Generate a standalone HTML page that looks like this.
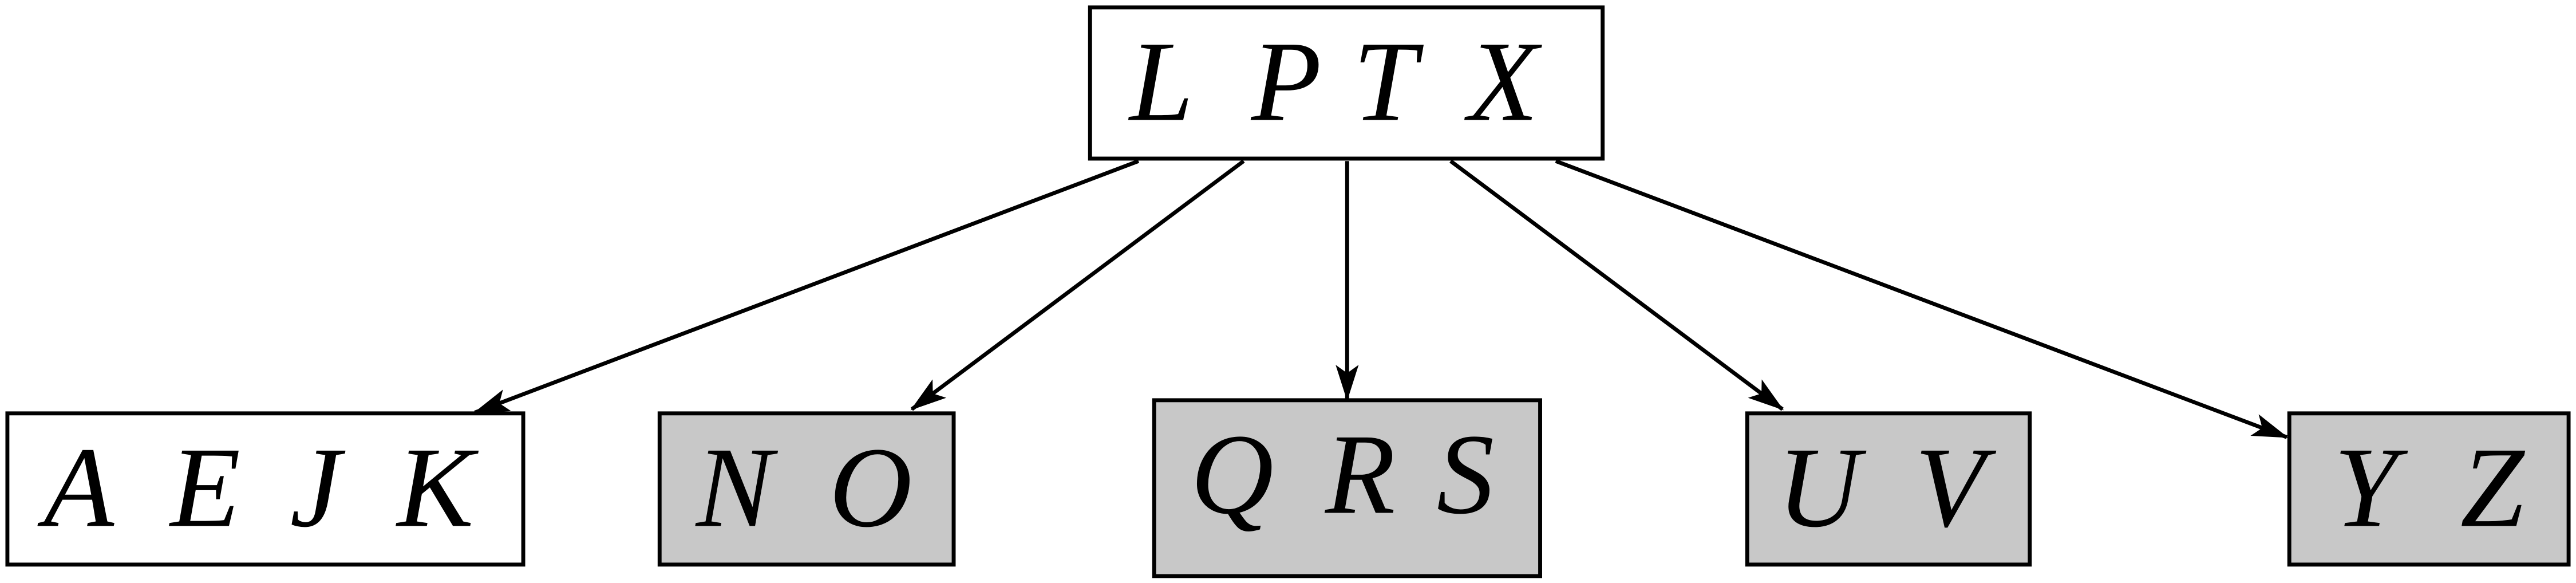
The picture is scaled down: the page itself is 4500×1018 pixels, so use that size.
<!DOCTYPE html>
<html><head><meta charset="utf-8"><style>html,body{margin:0;padding:0;background:#fff}svg{display:block}</style></head>
<body>
<svg width="4500" height="1018" viewBox="0 0 1568 354.7" preserveAspectRatio="none" xmlns="http://www.w3.org/2000/svg">
<defs>
<marker id="a" viewBox="0 0 22 14" refX="21" refY="7" markerWidth="22" markerHeight="14" markerUnits="userSpaceOnUse" orient="auto">
<path d="M0,0 L22,7 L0,14 L5,7 Z" fill="#000"/>
</marker>
</defs>
<g fill="none" stroke="#000" stroke-width="2.4">
<rect x="663.5" y="4.5" width="312" height="92" fill="#fff"/>
<rect x="4.5" y="251.5" width="314" height="92" fill="#fff"/>
<rect x="401.5" y="251.5" width="179" height="92" fill="#c8c8c8"/>
<rect x="702.5" y="243.5" width="235" height="107" fill="#c8c8c8"/>
<rect x="1063.5" y="251.5" width="172" height="92" fill="#c8c8c8"/>
<rect x="1393.5" y="251.5" width="170" height="92" fill="#c8c8c8"/>
<line x1="693" y1="98" x2="289" y2="251" marker-end="url(#a)"/>
<line x1="757" y1="98" x2="555" y2="249" marker-end="url(#a)"/>
<line x1="820" y1="98" x2="820" y2="243" marker-end="url(#a)"/>
<line x1="883" y1="98" x2="1085" y2="249" marker-end="url(#a)"/>
<line x1="947" y1="98" x2="1392" y2="266" marker-end="url(#a)"/>
</g>
<g font-family="Liberation Serif, serif" font-style="italic" font-size="70" text-anchor="middle" fill="#000">
<text x="707" y="73">L</text><text x="783" y="73">P</text><text x="843" y="73">T</text><text x="915" y="73">X</text>
<text x="48" y="320">A</text><text x="125" y="320">E</text><text x="192" y="320">J</text><text x="265" y="320">K</text>
<text x="447" y="320">N</text><text x="530" y="320">O</text>
<text x="750" y="312">Q</text><text x="828" y="312">R</text><text x="892" y="312">S</text>
<text x="1107" y="320">U</text><text x="1187" y="320">V</text>
<text x="1440" y="320">Y</text><text x="1517" y="320">Z</text>
</g>
</svg>
</body></html>
